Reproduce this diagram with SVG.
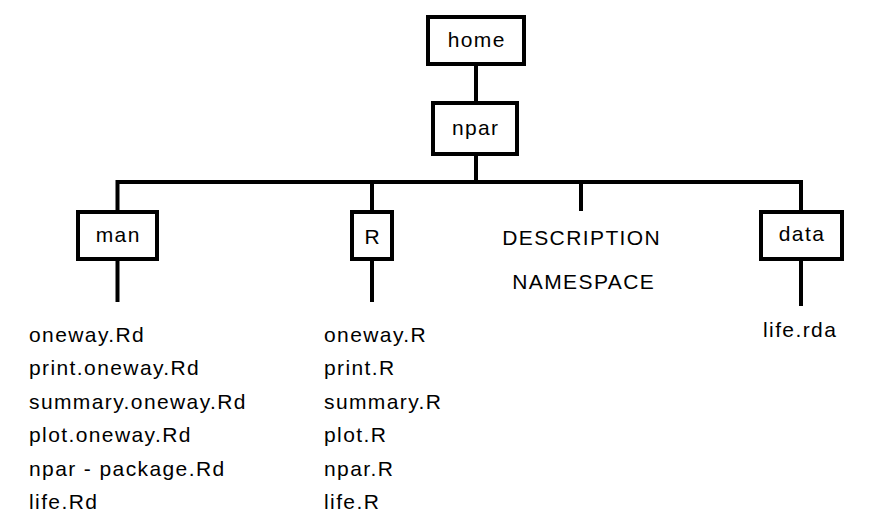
<svg xmlns="http://www.w3.org/2000/svg" width="877" height="526" viewBox="0 0 877 526">
<style>
.box{fill:#fff;stroke:#000;stroke-width:4}
.ln{stroke:#000;stroke-width:4;fill:none}
text{font-family:"Liberation Sans",Arial,sans-serif;font-size:21px;letter-spacing:1.4px;fill:#000}
.c{text-anchor:middle}
</style>
<rect width="877" height="526" fill="#fff"/>
<g id="connectors">
<line class="ln" x1="476" y1="64" x2="476" y2="103"/>
<line class="ln" x1="476" y1="154" x2="476" y2="182"/>
<polyline class="ln" points="117.5,211 117.5,182 801,182 801,211"/>
<line class="ln" x1="372" y1="182" x2="372" y2="211"/>
<line class="ln" x1="581" y1="182" x2="581" y2="211"/>
<line class="ln" x1="117.5" y1="260" x2="117.5" y2="302"/>
<line class="ln" x1="372" y1="260" x2="372" y2="302"/>
<line class="ln" x1="801" y1="260" x2="801" y2="306"/>
</g>
<g id="home"><rect class="box" x="428" y="17" width="96" height="47"/><text class="c" x="476.7" y="47">home</text></g>
<g id="npar"><rect class="box" x="433" y="103" width="84" height="51"/><text class="c" x="475.7" y="135">npar</text></g>
<g id="man"><rect class="box" x="78" y="212" width="79" height="47"/><text class="c" x="118.2" y="242">man</text></g>
<g id="R"><rect class="box" x="352" y="212" width="40" height="47"/><text class="c" x="372.7" y="244">R</text></g>
<g id="data"><rect class="box" x="761" y="212" width="81" height="47"/><text class="c" x="802" y="241">data</text></g>
<g id="description"><text class="c" x="581.7" y="245">DESCRIPTION</text><text class="c" x="583.7" y="289">NAMESPACE</text></g>
<g id="man-files">
<text x="29" y="342">oneway.Rd</text>
<text x="29" y="375">print.oneway.Rd</text>
<text x="29" y="408.5">summary.oneway.Rd</text>
<text x="29" y="442">plot.oneway.Rd</text>
<text x="29" y="475.5">npar - package.Rd</text>
<text x="29" y="509">life.Rd</text>
</g>
<g id="R-files">
<text x="324" y="342">oneway.R</text>
<text x="324" y="375">print.R</text>
<text x="324" y="408.5">summary.R</text>
<text x="324" y="442">plot.R</text>
<text x="324" y="475.5">npar.R</text>
<text x="324" y="509">life.R</text>
</g>
<g id="data-files"><text x="763" y="337">life.rda</text></g>
</svg>
